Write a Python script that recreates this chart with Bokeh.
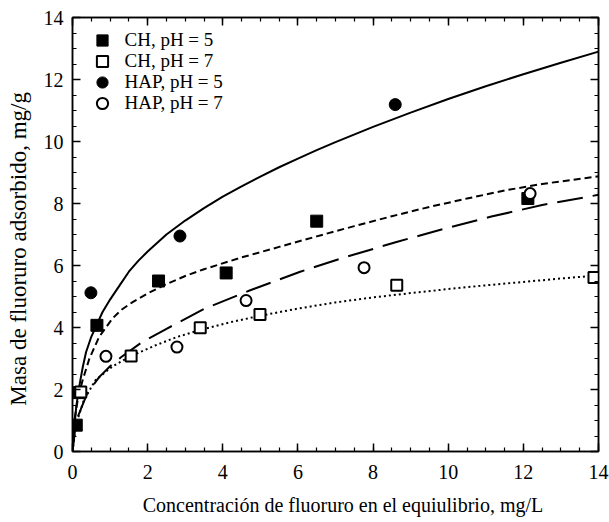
from bokeh.plotting import figure
from bokeh.models import LinearAxis, Range1d, Legend, LegendItem, FixedTicker
from bokeh.embed import file_html
from bokeh.resources import INLINE

FONT = "Liberation Serif"

# --- data ---
ch5_x = [0.10, 0.15, 0.65, 2.29, 4.09, 6.50, 12.12]
ch5_y = [0.85, 1.90, 4.07, 5.50, 5.76, 7.43, 8.16]

ch7_x = [0.22, 1.56, 3.40, 4.99, 8.63, 13.88]
ch7_y = [1.92, 3.08, 3.99, 4.42, 5.36, 5.61]

hap5_x = [0.49, 2.86, 8.59]
hap5_y = [5.12, 6.95, 11.19]

hap7_x = [0.89, 2.78, 4.62, 7.76, 12.18]
hap7_y = [3.07, 3.37, 4.87, 5.93, 8.32]

# fitted curves
solid_x = [0, 0.05, 0.1, 0.18, 0.27, 0.36, 0.5, 0.65, 0.8, 1.0, 1.25, 1.5, 1.75, 2.0, 2.5, 3.0, 3.5, 4.0, 4.5, 5.0,
           5.5, 6.0, 6.5, 7.0, 8.0, 9.0, 10.0, 11.0, 12.0, 13.0, 14.0]
solid_y = [0, 0.8, 1.45, 2.1, 2.7, 3.2, 3.7, 4.1, 4.5, 4.9, 5.35, 5.8, 6.15, 6.45, 7.0, 7.45, 7.85, 8.22, 8.55, 8.87,
           9.17, 9.45, 9.72, 9.98, 10.47, 10.93, 11.37, 11.78, 12.17, 12.54, 12.9]

sdash_x = [0, 0.05, 0.15, 0.27, 0.45, 0.71, 1.07, 1.3, 1.6, 2.0, 2.5, 3.0, 3.5, 4.5, 5.5, 6.5, 7.5, 8.5, 9.5, 10.5, 11.5, 12.5, 14.0]
sdash_y = [0, 1.0, 1.75, 2.3, 3.0, 3.7, 4.3, 4.57, 4.82, 5.1, 5.4, 5.66, 5.88, 6.26, 6.6, 6.94, 7.27, 7.59, 7.89, 8.16, 8.42, 8.63, 8.88]

ldash_x = [0, 0.1, 0.4, 0.71, 1.0, 1.29, 1.82, 2.49, 3.5, 4.73, 6.06, 7.21, 8.6, 10.0, 11.12, 12.5, 14.0]
ldash_y = [0, 1.0, 1.9, 2.4, 2.75, 3.04, 3.5, 3.95, 4.6, 5.2, 5.8, 6.25, 6.75, 7.22, 7.57, 7.95, 8.28]

dot_x = [0, 0.1, 0.3, 0.61, 1.07, 1.56, 2.2, 2.77, 3.4, 4.2, 5.0, 6.0, 7.0, 8.0, 9.0, 10.0, 11.0, 12.0, 13.0, 14.0]
dot_y = [0, 0.9, 1.65, 2.3, 2.75, 3.08, 3.42, 3.69, 3.92, 4.17, 4.38, 4.61, 4.81, 4.97, 5.11, 5.24, 5.36, 5.47, 5.58, 5.68]

legend_labels = ["CH, pH = 5", "CH, pH = 7", "HAP, pH = 5", "HAP, pH = 7"]
x_ticks = [0, 2, 4, 6, 8, 10, 12, 14]
y_ticks = [0, 2, 4, 6, 8, 10, 12, 14]
minor = [i * 0.5 for i in range(29)]

p = figure(output_backend="svg", toolbar_location=None,
           frame_width=526, frame_height=434,
           min_border_left=72, min_border_right=11, min_border_top=17, min_border_bottom=71,
           x_range=Range1d(0, 14), y_range=Range1d(0, 14),
           x_axis_location=None, y_axis_location=None)
p.outline_line_color = "black"
p.outline_line_width = 1.5
p.grid.visible = False
p.background_fill_color = "white"
p.border_fill_color = "white"

def style_axis(ax, ticks, labels=True):
    ax.ticker = FixedTicker(ticks=ticks, minor_ticks=minor)
    ax.major_tick_in = 8
    ax.major_tick_out = 0
    ax.minor_tick_in = 4
    ax.minor_tick_out = 0
    ax.major_tick_line_width = 1.5
    ax.minor_tick_line_width = 1.2
    ax.major_tick_line_color = "black"
    ax.minor_tick_line_color = "black"
    ax.axis_line_color = "black"
    ax.axis_line_width = 1.5
    ax.major_label_text_font = FONT
    ax.major_label_text_font_size = "20px" if labels else "0px"
    ax.major_label_text_color = "black"
    ax.axis_label_text_font = FONT
    ax.axis_label_text_font_style = "normal"
    ax.axis_label_text_color = "black"

xb = LinearAxis(axis_label="\u00a0\u00a0\u00a0Concentración de fluoruro en el equiulibrio, mg/L")
style_axis(xb, x_ticks)
xb.axis_label_text_font_size = "20px"
xb.major_label_standoff = 13
xb.axis_label_standoff = 12
yl = LinearAxis(axis_label="Masa de fluoruro adsorbido, mg/g\u00a0\u00a0\u00a0\u00a0\u00a0")
style_axis(yl, y_ticks)
yl.axis_label_text_font_size = "23px"
yl.major_label_standoff = 9
yl.axis_label_standoff = 10
xt = LinearAxis()
style_axis(xt, x_ticks, labels=False)
yr = LinearAxis()
style_axis(yr, y_ticks, labels=False)
for a in (xt, yr):
    a.major_label_standoff = 0
p.add_layout(xb, "below")
p.add_layout(yl, "left")
p.add_layout(xt, "above")
p.add_layout(yr, "right")

lw = 2
p.line(solid_x, solid_y, line_color="black", line_width=lw)
p.line(sdash_x, sdash_y, line_color="black", line_width=lw, line_dash="7 4")
p.line(ldash_x, ldash_y, line_color="black", line_width=lw, line_dash="26 10")
p.line(dot_x, dot_y, line_color="black", line_width=lw, line_dash="2 3")

r1 = p.scatter(ch5_x, ch5_y, marker="square", size=12, fill_color="black", line_color="black")
r2 = p.scatter(ch7_x, ch7_y, marker="square", size=11, fill_color="white", line_color="black", line_width=2)
r3 = p.scatter(hap5_x, hap5_y, marker="circle", size=12, fill_color="black", line_color="black")
r4 = p.scatter(hap7_x, hap7_y, marker="circle", size=11, fill_color="white", line_color="black", line_width=2)

# one single-row legend per series, so that rows can be 21 px apart with large markers
row_offsets = [397, 376, 355, 334]
for lab, r, off in zip(legend_labels, [r1, r2, r3, r4], row_offsets):
    lg = Legend(items=[LegendItem(label=lab, renderers=[r])],
                location=(15.5, off), border_line_color=None, background_fill_alpha=0,
                label_text_font=FONT, label_text_font_size="19px", label_text_color="black",
                glyph_width=28, glyph_height=28, label_height=28, spacing=0,
                label_standoff=9, padding=5, margin=0)
    p.add_layout(lg)

open("out.html", "w").write(file_html(p, INLINE))
